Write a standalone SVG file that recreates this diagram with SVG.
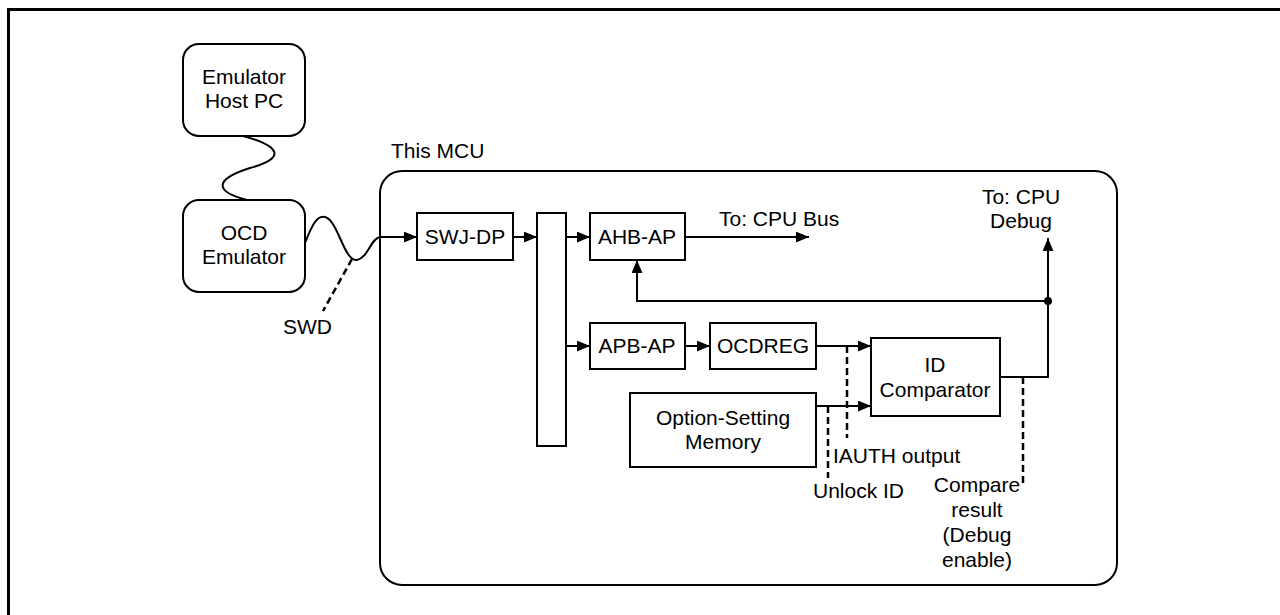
<svg xmlns="http://www.w3.org/2000/svg" width="1280" height="615" viewBox="0 0 1280 615">
<defs>
<style>
.box{fill:#fff;stroke:#000;stroke-width:2}
.ln{fill:none;stroke:#000;stroke-width:2}
.dash{fill:none;stroke:#000;stroke-width:2.5;stroke-dasharray:7,4}
text{font-family:"Liberation Sans",Arial,sans-serif;font-size:21px;fill:#000}
.c{text-anchor:middle}
</style>
<marker id="ah" viewBox="0 0 12 10" refX="12" refY="5" markerWidth="13" markerHeight="11" markerUnits="userSpaceOnUse" orient="auto">
<path d="M0,0 L12,5 L0,10 Z" fill="#000"/>
</marker>
</defs>
<rect width="1280" height="615" fill="#fff"/>
<rect x="8.5" y="9.5" width="1300" height="700" fill="none" stroke="#000" stroke-width="3"/>

<g id="mcu">
<rect class="box" x="380" y="171" width="737" height="414" rx="22"/>
<text x="391" y="158">This MCU</text>
</g>

<g id="host-pc">
<rect class="box" x="183" y="44" width="122" height="92" rx="16"/>
<text class="c" x="244" y="84">Emulator</text>
<text class="c" x="244" y="108">Host PC</text>
</g>
<g id="ocd-emulator">
<rect class="box" x="183" y="200" width="122" height="92" rx="16"/>
<text class="c" x="244" y="240">OCD</text>
<text class="c" x="244" y="264">Emulator</text>
</g>
<g id="swj-dp">
<rect class="box" x="417" y="213" width="96" height="47"/>
<text class="c" x="465" y="244">SWJ-DP</text>
</g>
<g id="bus-bar">
<rect class="box" x="537" y="213" width="29" height="233"/>
</g>
<g id="ahb-ap">
<rect class="box" x="590" y="213" width="95" height="47"/>
<text class="c" x="637" y="244">AHB-AP</text>
</g>
<g id="apb-ap">
<rect class="box" x="590" y="323" width="95" height="46"/>
<text class="c" x="637" y="353">APB-AP</text>
</g>
<g id="ocdreg">
<rect class="box" x="710" y="323" width="106" height="46"/>
<text class="c" x="763" y="353">OCDREG</text>
</g>
<g id="option-memory">
<rect class="box" x="630" y="393" width="186" height="74"/>
<text class="c" x="723" y="425">Option-Setting</text>
<text class="c" x="723" y="449">Memory</text>
</g>
<g id="id-comparator">
<rect class="box" x="871" y="338" width="129" height="78"/>
<text class="c" x="935" y="372">ID</text>
<text class="c" x="935" y="397">Comparator</text>
</g>

<g id="connectors">
<path class="ln" d="M243,136 C280,146 287,158 250,168 C212,180 216,192 247,200"/>
<path class="ln" d="M305,243 C312,225 317,215 325,217 C338,220 344,262 357,260 C368,258 371,238 380,237"/>
<path class="dash" d="M352,259 L323,311"/>
<path class="ln" d="M380,237 L417,237" marker-end="url(#ah)"/>
<path class="ln" d="M513,237 L537,237" marker-end="url(#ah)"/>
<path class="ln" d="M566,237 L590,237" marker-end="url(#ah)"/>
<path class="ln" d="M685,237 L809,237" marker-end="url(#ah)"/>
<path class="ln" d="M566,346 L590,346" marker-end="url(#ah)"/>
<path class="ln" d="M685,346 L710,346" marker-end="url(#ah)"/>
<path class="ln" d="M816,346 L871,346" marker-end="url(#ah)"/>
<path class="ln" d="M816,406 L871,406" marker-end="url(#ah)"/>
<path class="ln" d="M1000,377 L1048,377 L1048,238" marker-end="url(#ah)"/>
<path class="ln" d="M1048,301 L637,301 L637,260" marker-end="url(#ah)"/>
<circle cx="1048" cy="301" r="4" fill="#000"/>
<path class="dash" d="M847,346 L847,438"/>
<path class="dash" d="M828,406 L828,478"/>
<path class="dash" d="M1023,377 L1023,485"/>
</g>

<g id="labels">
<text x="283" y="334">SWD</text>
<text x="719" y="226">To: CPU Bus</text>
<text class="c" x="1021" y="204">To: CPU</text>
<text class="c" x="1021" y="228">Debug</text>
<text x="833" y="463">IAUTH output</text>
<text x="813" y="498">Unlock ID</text>
<text class="c" x="977" y="492">Compare</text>
<text class="c" x="977" y="517">result</text>
<text class="c" x="977" y="542">(Debug</text>
<text class="c" x="977" y="567">enable)</text>
</g>
</svg>
